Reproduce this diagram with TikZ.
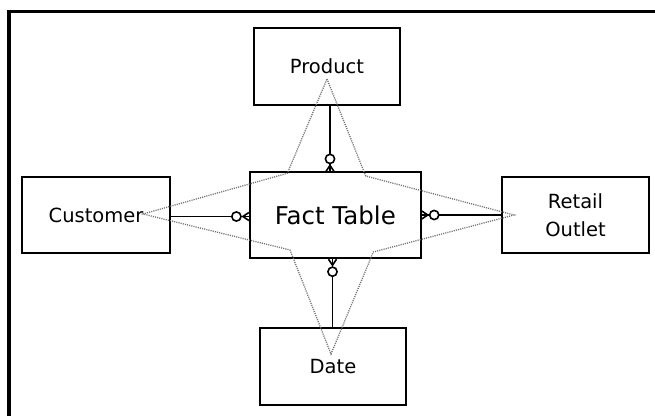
\documentclass[tikz,border=0pt]{standalone}
\usepackage{fontspec}
\setmainfont{DejaVu Sans}
\begin{document}
\begin{tikzpicture}[x=1pt,y=-1pt,
  entity/.style={draw=black, line width=1.8pt, inner sep=0pt, align=center,
    font=\fontsize{19.5}{28}\selectfont},
  conn/.style={draw=black, line width=1.6pt},
  starline/.style={draw=black!55, line width=1.3pt, dash pattern=on 1.1pt off 1.1pt},
  zeromany/.pic={
    \draw[conn] (0,-4) -- (6,0) -- (0,4);
    \draw[conn] (0,0) -- (8,0);
    \draw[conn, fill=white] (12.5,0) circle[radius=4.6pt];
  }]
\useasboundingbox (0,0) rectangle (655,415);

% outer frame
\draw[line width=3.3pt] (9,420) -- (9,11.7) -- (660,11.7);

% entities
\node[entity, minimum width=146pt, minimum height=77pt] (Product)  at (327,66.5)  {Product};
\node[entity, minimum width=148pt, minimum height=76pt] (Customer) at (96,215)    {Customer};
\node[entity, minimum width=171pt, minimum height=86pt,
      font=\fontsize{24.5}{28}\selectfont] (Fact) at (335.3,215.3) {Fact Table};
\node[entity, minimum width=147pt, minimum height=76pt] (Retail)   at (575.5,215) {Retail\\Outlet};
\node[entity, minimum width=146pt, minimum height=77pt] (Date)     at (333,366.5) {Date};

% guide positions for the relationship lines
\coordinate (vtop) at (330,0);
\coordinate (vbot) at (332.5,0);
\coordinate (hleft) at (0,216.5);
\coordinate (hright) at (0,215);

% relationships: one dimension to many facts
\draw[conn] (Product.south -| vtop) -- (Fact.north -| vtop);
\pic[rotate=90] at (Fact.north -| vtop) {zeromany};

\draw[conn] (Date.north -| vbot) -- (Fact.south -| vbot);
\pic[rotate=-90] at (Fact.south -| vbot) {zeromany};

\draw[conn] (Customer.east |- hleft) -- (Fact.west |- hleft);
\pic[rotate=180] at (Fact.west |- hleft) {zeromany};

\draw[conn] (Retail.west |- hright) -- (Fact.east |- hright);
\pic at (Fact.east |- hright) {zeromany};

% dotted star linking the dimensions
\coordinate (sP)  at (327,79);
\coordinate (sPR) at (365.7,176);
\coordinate (sR)  at (514,215);
\coordinate (sRD) at (373.3,252);
\coordinate (sD)  at (331,354);
\coordinate (sDC) at (290,250);
\coordinate (sC)  at (143,214);
\coordinate (sCP) at (287.3,173.3);
\draw[starline] (sP) -- (sPR) -- (sR) -- (sRD) -- (sD) -- (sDC) -- (sC) -- (sCP) -- cycle;
\end{tikzpicture}
\end{document}
